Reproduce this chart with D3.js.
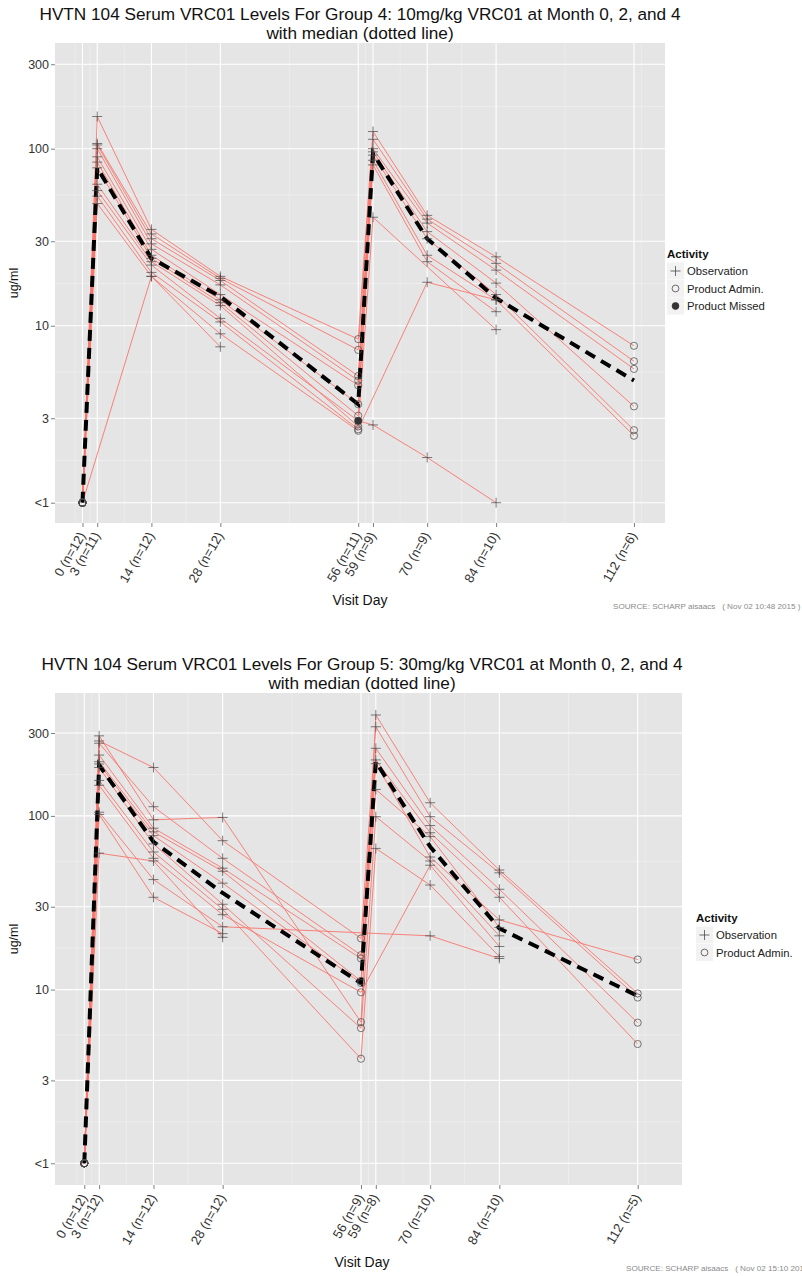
<!DOCTYPE html>
<html>
<head>
<meta charset="utf-8">
<script src="https://cdn.jsdelivr.net/npm/d3@7"></script>
<style>
  html, body { margin: 0; padding: 0; background: #fff; }
  text { font-family: "Liberation Sans", Arial, sans-serif; }
</style>
</head>
<body>
<script>
// ---------------- DATA ----------------
const visitDays = [0, 3, 14, 28, 56, 59, 70, 84, 112];
const adminDays = [0, 56, 112];

const yTickValues = [1, 3, 10, 30, 100, 300];
const yTickLabels = ["<1", "3", "10", "30", "100", "300"];

// Group 4 (10mg/kg)
const g4Title1 = "HVTN 104 Serum VRC01 Levels For Group 4: 10mg/kg VRC01 at Month 0, 2, and 4";
const g4Counts = [12, 11, 12, 12, 11, 9, 9, 10, 6];
// one row per participant, one value per visit day (null = no sample)
const g4P1  = [1, 152, 35, 19,   8.4, 125, 42,   24.5, 7.7];
const g4P2  = [1, 107, 33, 18.5, 7.3, 113, 40,   22.5, 6.3];
const g4P3  = [1, 105, 31, 18,   5.2, 100, 38,   20.6, 5.7];
const g4P4  = [1, 100, 29, 17,   4.9,  96, 34,   17.4, 3.5];
const g4P5  = [1,  90, 27, 15,   4.6,  92, 31,   15,   2.57];
const g4P6  = [1,  84, 25, 14,   3.6,  86, 25,   14,   2.39];
const g4P7  = [1,  78, 24, 13.5, 3.1,  81, 23,   12,   null];
const g4P8  = [1,  63, 23, 13,   2.7,  41, null, 9.5,  null];
const g4P9  = [1,  58, 22, 11,   2.9, 2.75, 1.8, 1,    null];
const g4P10 = [1,  54, 20, 10.5, 2.6, null, 17.6, 14,  null];
const g4P11 = [1,  49, 19, 9,    2.55, null, null, null, null];
const g4P12 = [1, null, 19, 7.6, null, null, null, null, null];
const g4Participants = [g4P1, g4P2, g4P3, g4P4, g4P5, g4P6, g4P7, g4P8, g4P9, g4P10, g4P11, g4P12];
const g4Missed = [[8, 4]]; // [participant index, visit index] with Product Missed
const g4Median = [1, 78, 24, 14.6, 3.6, 94, 31, 14.3, 4.9];

// Group 5 (30mg/kg)
const g5Title1 = "HVTN 104 Serum VRC01 Levels For Group 5: 30mg/kg VRC01 at Month 0, 2, and 4";
const g5Counts = [12, 12, 12, 12, 9, 8, 10, 10, 5];
const g5P1  = [1, 289,  95, 98, 6.5,  381, 119, 48.8, 9.5];
const g5P2  = [1, 270, 190, 72, 19.7, 326,  99, 47,   9.0];
const g5P3  = [1, 262, 113, 57, 15.8, 245,  88, 37.8, 6.45];
const g5P4  = [1, 224,  85, 50, 15.1, 210,  80, 34,   4.86];
const g5P5  = [1, 205,  81, 48, 11.2, 200,  58, 25.2, 14.9];
const g5P6  = [1, 199,  77, 41, 10.9, 142,  76, 22.8, null];
const g5P7  = [1, 190,  69, 31, 6.0,   99,  55, 20.4, null];
const g5P8  = [1, 160,  62, 29, 4.0,   65,  40, 15.5, null];
const g5P9  = [1, 150,  57, 27, 9.65, null, 52, 17.7, null];
const g5P10 = [1, 105,  43, 23, null, null, 20.4, 15.1, null];
const g5P11 = [1, 102,  34, 21, null, null, null, null, null];
const g5P12 = [1,  61,  55, 20, null, null, null, null, null];
const g5Participants = [g5P1, g5P2, g5P3, g5P4, g5P5, g5P6, g5P7, g5P8, g5P9, g5P10, g5P11, g5P12];
const g5Missed = [];
const g5Median = [1, 196, 71, 36, 10.9, 205, 66.5, 22.5, 9.2];

const subtitle = "with median (dotted line)";
const legendTitle = "Activity";
const legendObs = "Observation";
const legendAdmin = "Product Admin.";
const legendMissed = "Product Missed";

// ---------------- DRAWING ----------------
const W = 802, H = 1276;
const svg = d3.select("body").append("svg").attr("width", W).attr("height", H);
svg.append("rect").attr("width", W).attr("height", H).attr("fill", "#fff");

const lineColor = "#F8766D";
const ptColor = "#4a4a4a";

function drawChart(cfg) {
  const g = svg.append("g");
  const x = d3.scaleLinear().domain(cfg.xDomain).range([cfg.left, cfg.right]);
  const y = d3.scaleLog().domain(cfg.yDomain).range([cfg.bottom, cfg.top]);

  // panel
  g.append("rect").attr("x", cfg.left).attr("y", cfg.top)
    .attr("width", cfg.right - cfg.left).attr("height", cfg.bottom - cfg.top)
    .attr("fill", "#E5E5E5");

  // minor grid (midpoints of breaks, in transformed space, with extension)
  const xb = visitDays.slice();
  const bdx = xb[1] - xb[0];
  const xbe = [xb[0] - bdx, ...xb, xb[xb.length - 1] + bdx];
  const xMinor = d3.pairs(xbe).map(p => (p[0] + p[1]) / 2)
    .filter(v => v >= cfg.xDomain[0] && v <= cfg.xDomain[1]);
  const yb = yTickValues.map(Math.log10);
  const bdy = yb[1] - yb[0];
  const ybe = [yb[0] - bdy, ...yb, yb[yb.length - 1] + bdy];
  const yMinor = d3.pairs(ybe).map(p => Math.pow(10, (p[0] + p[1]) / 2))
    .filter(v => v >= cfg.yDomain[0] && v <= cfg.yDomain[1]);

  g.selectAll(".xminor").data(xMinor).join("line")
    .attr("x1", d => x(d)).attr("x2", d => x(d))
    .attr("y1", cfg.top).attr("y2", cfg.bottom)
    .attr("stroke", "#F2F2F2").attr("stroke-width", 0.6);
  g.selectAll(".yminor").data(yMinor).join("line")
    .attr("y1", d => y(d)).attr("y2", d => y(d))
    .attr("x1", cfg.left).attr("x2", cfg.right)
    .attr("stroke", "#F2F2F2").attr("stroke-width", 0.6);
  // major grid
  g.selectAll(".xmajor").data(visitDays).join("line")
    .attr("x1", d => x(d)).attr("x2", d => x(d))
    .attr("y1", cfg.top).attr("y2", cfg.bottom)
    .attr("stroke", "#fff").attr("stroke-width", 1.1);
  g.selectAll(".ymajor").data(yTickValues).join("line")
    .attr("y1", d => y(d)).attr("y2", d => y(d))
    .attr("x1", cfg.left).attr("x2", cfg.right)
    .attr("stroke", "#fff").attr("stroke-width", 1.1);

  // participant lines
  const line = d3.line().x(d => x(d[0])).y(d => y(d[1]));
  cfg.participants.forEach(p => {
    const pts = visitDays.map((d, i) => [d, p[i]]).filter(d => d[1] != null);
    g.append("path").attr("d", line(pts)).attr("fill", "none")
      .attr("stroke", lineColor).attr("stroke-width", 1).attr("stroke-opacity", 0.9);
  });

  // median dashed line
  const medPts = visitDays.map((d, i) => [d, cfg.median[i]]);
  g.append("path").attr("d", line(medPts)).attr("fill", "none")
    .attr("stroke", "#000").attr("stroke-width", 4)
    .attr("stroke-dasharray", "11,7");

  // points
  const missedSet = new Set(cfg.missed.map(m => m[0] + "_" + m[1]));
  cfg.participants.forEach((p, pi) => {
    visitDays.forEach((d, i) => {
      const v = p[i];
      if (v == null) return;
      const cx = x(d), cy = y(v);
      if (missedSet.has(pi + "_" + i)) {
        g.append("circle").attr("cx", cx).attr("cy", cy).attr("r", 3.6)
          .attr("fill", "#333").attr("stroke", "#333").attr("stroke-width", 0.8);
      } else if (adminDays.includes(d)) {
        g.append("circle").attr("cx", cx).attr("cy", cy).attr("r", 3.6)
          .attr("fill", "none").attr("stroke", ptColor).attr("stroke-width", 0.8)
          .attr("stroke-opacity", 0.9);
      } else {
        g.append("path").attr("d", `M${cx - 5},${cy}H${cx + 5}M${cx},${cy - 5}V${cy + 5}`)
          .attr("stroke", ptColor).attr("stroke-width", 0.8).attr("stroke-opacity", 0.9);
      }
    });
  });

  // axes
  const yAxis = d3.axisLeft(y).tickValues(yTickValues)
    .tickFormat((d, i) => yTickLabels[i]).tickSize(4).tickPadding(2);
  const ya = g.append("g").attr("transform", `translate(${cfg.left},0)`).call(yAxis);
  ya.select(".domain").remove();
  ya.selectAll(".tick line").attr("stroke", "#7f7f7f");
  ya.selectAll(".tick text").attr("font-size", 12.5).attr("fill", "#333")
    .attr("font-family", "Liberation Sans, Arial, sans-serif");

  const xAxis = d3.axisBottom(x).tickValues(visitDays)
    .tickFormat((d, i) => `${d} (n=${cfg.counts[i]})`).tickSize(4);
  const xa = g.append("g").attr("transform", `translate(0,${cfg.bottom})`).call(xAxis);
  xa.select(".domain").remove();
  xa.selectAll(".tick line").attr("stroke", "#7f7f7f");
  xa.selectAll(".tick text").attr("font-size", 13).attr("fill", "#333")
    .attr("font-family", "Liberation Sans, Arial, sans-serif")
    .attr("text-anchor", "end").attr("dy", "0.35em")
    .attr("transform", "translate(-1,10) rotate(-60)").attr("y", 0).attr("x", 0);

  // titles
  g.append("text").attr("x", cfg.titleX).attr("y", cfg.titleY1).attr("text-anchor", "middle")
    .attr("font-size", 17.2).attr("fill", "#111").text(cfg.title1);
  g.append("text").attr("x", cfg.titleX).attr("y", cfg.titleY2).attr("text-anchor", "middle")
    .attr("font-size", 17.2).attr("fill", "#111").text(subtitle);
  g.append("text").attr("x", cfg.titleX).attr("y", cfg.xLabelY).attr("text-anchor", "middle")
    .attr("font-size", 14).attr("fill", "#111").text("Visit Day");
  g.append("text").attr("transform", `translate(18,${(cfg.top + cfg.bottom) / 2}) rotate(-90)`)
    .attr("text-anchor", "middle").attr("font-size", 12.5).attr("fill", "#111").text("ug/ml");

  // source
  g.append("text").attr("x", cfg.sourceX).attr("y", cfg.sourceY)
    .attr("font-size", 8.1).attr("fill", "#8a8a8a").style("white-space", "pre")
    .text(cfg.source);

  // legend
  const lg = g.append("g").attr("transform", `translate(${cfg.legendX},${cfg.legendY})`);
  lg.append("text").attr("x", 0).attr("y", 4).attr("font-size", 11.5)
    .attr("font-weight", "bold").attr("fill", "#111").text(legendTitle);
  cfg.legendItems.forEach((it, i) => {
    const cy = 17 + i * 17.5;
    lg.append("rect").attr("x", 0).attr("y", cy - 8.5).attr("width", 17).attr("height", 17)
      .attr("fill", "#F2F2F2");
    const kx = 8.5;
    if (it.type === "obs") {
      lg.append("path").attr("d", `M${kx - 5},${cy}H${kx + 5}M${kx},${cy - 5}V${cy + 5}`)
        .attr("stroke", ptColor).attr("stroke-width", 0.8);
    } else if (it.type === "admin") {
      lg.append("circle").attr("cx", kx).attr("cy", cy).attr("r", 3.4)
        .attr("fill", "none").attr("stroke", ptColor).attr("stroke-width", 0.8);
    } else {
      lg.append("circle").attr("cx", kx).attr("cy", cy).attr("r", 3.4)
        .attr("fill", "#333").attr("stroke", "#333").attr("stroke-width", 0.8);
    }
    lg.append("text").attr("x", 20).attr("y", cy + 4).attr("font-size", 11.3)
      .attr("fill", "#222").text(it.label);
  });
}

drawChart({
  left: 55, right: 665, top: 43, bottom: 523,
  xDomain: [-5.58, 118.3],
  yDomain: [0.768, 395.5],
  participants: g4Participants, missed: g4Missed, median: g4Median, counts: g4Counts,
  title1: g4Title1, titleX: 360, titleY1: 19.5, titleY2: 38.5, xLabelY: 605,
  source: "SOURCE: SCHARP aisaacs   ( Nov 02 10:48 2015 )", sourceX: 613, sourceY: 609,
  legendX: 667, legendY: 254,
  legendItems: [{type: "obs", label: legendObs}, {type: "admin", label: legendAdmin}, {type: "missed", label: legendMissed}]
});

drawChart({
  left: 55, right: 682, top: 693, bottom: 1185,
  xDomain: [-5.93, 120.97],
  yDomain: [0.75, 510],
  participants: g5Participants, missed: g5Missed, median: g5Median, counts: g5Counts,
  title1: g5Title1, titleX: 362, titleY1: 669.5, titleY2: 688.5, xLabelY: 1267,
  source: "SOURCE: SCHARP aisaacs   ( Nov 02 15:10 2015 )", sourceX: 626, sourceY: 1271,
  legendX: 696, legendY: 918,
  legendItems: [{type: "obs", label: legendObs}, {type: "admin", label: legendAdmin}]
});
</script>
</body>
</html>
